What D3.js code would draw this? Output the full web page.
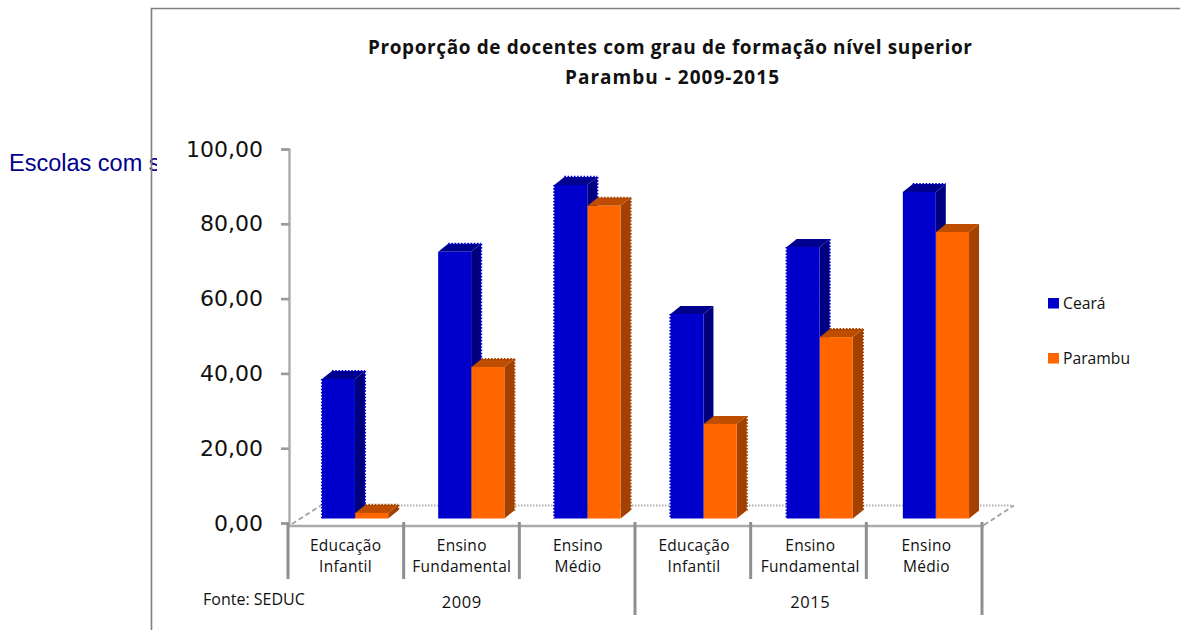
<!DOCTYPE html>
<html>
<head>
<meta charset="utf-8">
<script src="https://cdn.jsdelivr.net/npm/d3@7"></script>
<style>
  html, body { margin: 0; padding: 0; background: #fff; }
  svg { display: block; }
  text { font-family: "Open Sans", sans-serif; fill: #111; }
</style>
</head>
<body>
<div id="chart"></div>
<script>
// chart values
const categories = ["Educação Infantil", "Ensino Fundamental", "Ensino Médio", "Educação Infantil", "Ensino Fundamental", "Ensino Médio"];
const years = ["2009", "2015"];
const seriesNames = ["Ceará", "Parambu"];
const ceara = [37.3, 71.3, 89.2, 54.7, 72.6, 87.3];
const parambu = [1.5, 40.5, 83.6, 25.3, 48.5, 76.6];
const yTicks = [0, 20, 40, 60, 80, 100];

const svg = d3.select("#chart").append("svg")
  .attr("width", 1180)
  .attr("height", 630);

// text left behind the chart area, cut off by it
svg.append("text")
  .attr("x", 9).attr("y", 171)
  .style("font-family", "'Liberation Sans', sans-serif")
  .style("font-size", "23.5px")
  .style("fill", "#00008b")
  .text("Escolas com s");
svg.append("rect").attr("x", 157).attr("y", 9).attr("width", 1023).attr("height", 621).attr("fill", "#fff");

// chart frame, only top and left
svg.append("path")
  .attr("d", d3.line()([[1180, 8.5], [151.5, 8.5], [151.5, 630]]))
  .attr("fill", "none").attr("stroke", "#7f7f7f").attr("stroke-width", 1.6);

// title
svg.append("text").attr("x", 670).attr("y", 54).attr("text-anchor", "middle")
  .style("font-size", "19px").style("font-weight", 700)
  .attr("textLength", 604).attr("lengthAdjust", "spacing")
  .text("Proporção de docentes com grau de formação nível superior");
svg.append("text").attr("x", 672).attr("y", 84).attr("text-anchor", "middle")
  .style("font-size", "19px").style("font-weight", 700)
  .attr("textLength", 214).attr("lengthAdjust", "spacing")
  .text("Parambu - 2009-2015");

// scales
const y = d3.scaleLinear().domain([0, 100]).range([523, 149]);
const idx = categories.map((d, i) => i);
const x = d3.scaleBand().domain(idx).range([287.5, 984.5]);
const xEdge = d3.scaleBand().domain(idx).range([288, 982]);
const xSeries = d3.scaleBand().domain(seriesNames).range([34.5, 101]);

// y axis
const yAxis = svg.append("g")
  .attr("transform", "translate(289,0)")
  .call(d3.axisLeft(y).tickValues(yTicks).tickSize(8).tickPadding(18)
    .tickFormat(d => d3.format(".2f")(d).replace(".", ",")));
yAxis.select(".domain").attr("stroke", "#ababab").attr("stroke-width", 2.4);
yAxis.selectAll(".tick line").attr("stroke", "#9a9a9a").attr("stroke-width", 2.6);
yAxis.selectAll(".tick text")
  .style("font-family", "'DejaVu Sans', sans-serif")
  .style("font-size", "22px")
  .style("fill", "#111");

// floor of the 3d box
const depth = { dx: 10, dy: 8 };
const baseDrop = 4.5; // the columns stand a bit under the zero tick
svg.append("line").attr("x1", 320).attr("x2", 1012).attr("y1", 505.5).attr("y2", 505.5)
  .attr("stroke", "#b0b0b0").attr("stroke-width", 2).attr("stroke-dasharray", "1.5 1.5");
[[292, 524, 320, 506], [984, 525, 1014, 505.5]].forEach(c => {
  svg.append("line").attr("x1", c[0]).attr("y1", c[1]).attr("x2", c[2]).attr("y2", c[3])
    .attr("stroke", "#a0a0a0").attr("stroke-width", 1.8).attr("stroke-dasharray", "5 3");
});

// columns, 3 faces each
const colours = {
  "Ceará": { front: "#0000cc", side: "#00007f", top: "#00008f" },
  "Parambu": { front: "#ff6600", side: "#a34100", top: "#bf4d00" }
};

// which columns have the rough, saw-tooth edges of the reference: left, right, top
const rough = {
  "Ceará": ["lrt", "rt", "lrt", "l", "lr", "t"],
  "Parambu": ["rt", "rt", "rt", "r", "rt", ""]
};

function drawColumn(name, values) {
  const w = xSeries.bandwidth() - 0.3;
  const c = colours[name];
  const g = svg.append("g");
  values.forEach((v, i) => {
    const x0 = x(i) + xSeries(name), x1 = x0 + w;
    const y0 = y(0) - baseDrop, yT = y(v) - baseDrop;
    const dx = depth.dx, dy = depth.dy;

    g.append("path")
      .attr("d", d3.line()([[x1, y0], [x1 + dx, y0 - dy], [x1 + dx, yT - dy], [x1, yT]]) + "Z")
      .attr("fill", c.side);
    g.append("path")
      .attr("d", d3.line()([[x0, yT], [x0 + dx, yT - dy], [x1 + dx, yT - dy], [x1, yT]]) + "Z")
      .attr("fill", c.top);
    g.append("rect")
      .attr("x", x0).attr("y", yT)
      .attr("width", w).attr("height", y0 - yT)
      .attr("fill", c.front);

    // saw-tooth edges
    const saw = pts => g.append("path")
      .attr("d", d3.line()(pts))
      .attr("fill", "none")
      .attr("stroke", name == "Ceará" ? c.front : c.side)
      .attr("stroke-width", 2.2)
      .attr("stroke-dasharray", "1.6 1.6");
    const r = rough[name][i];
    if (r.includes("l")) saw([[x0, yT], [x0, y0]]);
    if (r.includes("r")) saw([[x1 + dx, yT - dy], [x1 + dx, y0 - dy]]);
    if (r.includes("t")) saw([[x0 + dx, yT - dy], [x1 + dx, yT - dy]]);
  });
}
// blue first so the orange column overlaps its side
drawColumn("Ceará", ceara);
drawColumn("Parambu", parambu);

// x axis line and group separators
svg.append("line").attr("x1", 288).attr("x2", 984).attr("y1", 526).attr("y2", 526)
  .attr("stroke", "#ababab").attr("stroke-width", 2.4);
const edges = idx.map(i => xEdge(i)).concat([xEdge.range()[1]]);
svg.selectAll(".sep").data(edges).join("line")
  .attr("class", "sep")
  .attr("x1", d => d).attr("x2", d => d)
  .attr("y1", (d, i) => i == 0 ? 523 : 522)
  .attr("y2", (d, i) => (i == 3 || i == 6) ? 615 : 579)
  .attr("stroke", "#8f8f8f").attr("stroke-width", 3);

// category labels on two lines
const labels = svg.selectAll(".cat").data(categories).join("text")
  .attr("class", "cat")
  .attr("text-anchor", "middle")
  .style("font-size", "15.5px")
  .style("letter-spacing", "0.3px");
labels.each(function (d, i) {
  const t = d3.select(this);
  d.split(" ").forEach((word, k) => {
    t.append("tspan")
      .attr("x", x(i) + x.bandwidth() / 2)
      .attr("y", 551 + k * 21)
      .text(word);
  });
});

// year labels under the middle of each group of three
svg.selectAll(".year").data(years).join("text")
  .attr("class", "year")
  .attr("x", (d, i) => x(1 + i * 3) + x.bandwidth() / 2)
  .attr("y", 608)
  .attr("text-anchor", "middle")
  .style("font-size", "16.5px")
  .style("letter-spacing", "0.6px")
  .text(d => d);

svg.append("text").attr("x", 203).attr("y", 605)
  .style("font-size", "16px")
  .text("Fonte: SEDUC");

// legend
const legendY = d3.scalePoint().domain(seriesNames).range([303, 358]);
seriesNames.forEach(name => {
  svg.append("rect").attr("x", 1048).attr("y", legendY(name) - 5)
    .attr("width", 11).attr("height", 10.5)
    .attr("fill", colours[name].front);
  svg.append("text").attr("x", 1063).attr("y", legendY(name) + 5.5)
    .style("font-size", "15.7px")
    .text(name);
});
</script>
</body>
</html>
